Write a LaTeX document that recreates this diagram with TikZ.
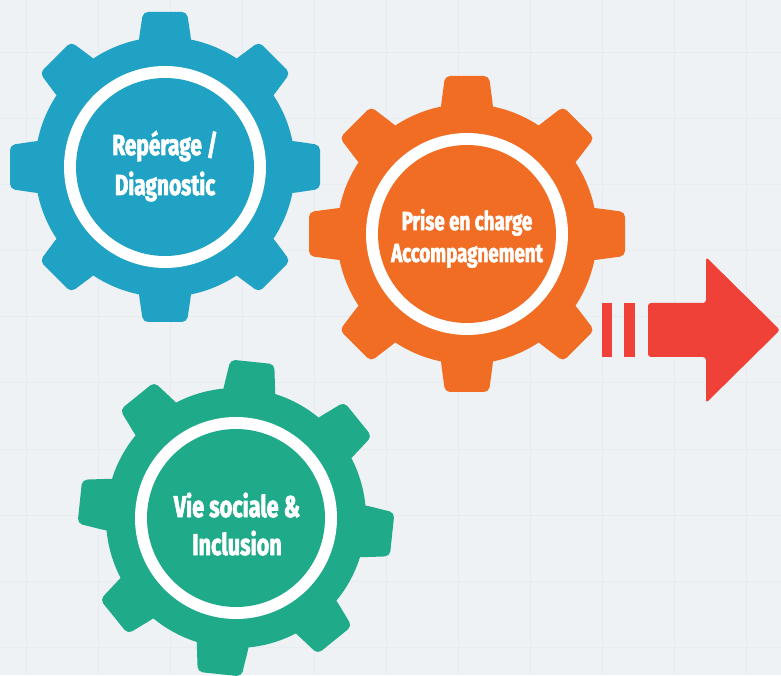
\documentclass[tikz,border=0pt]{standalone}
\usepackage{fontspec}
\newfontfamily\gearfont[FakeStretch=0.72,FakeBold=2.2]{Fira Sans}
\definecolor{gblue}{RGB}{31,162,196}
\definecolor{gorange}{RGB}{240,109,35}
\definecolor{ggreen}{RGB}{31,170,138}
\definecolor{ared}{RGB}{239,65,55}
\definecolor{bgc}{RGB}{238,242,245}
\definecolor{gridc}{RGB}{231,236,240}
\newcommand{\drawgear}[5]{%
  \begin{scope}[shift={(#1,#2)},rotate=#3]
    \fill[#4] (0,0) circle (130pt);
    \foreach \a in {0,45,...,315}{
      \fill[#4,rotate=\a,rounded corners=5pt] (110,-27) -- (128,-26) -- (#5,-22) -- (#5,22) -- (128,26) -- (110,27) -- cycle;
    }
    \fill[white] (0,0) circle (101pt);
    \fill[#4] (0,0) circle (89pt);
  \end{scope}}
\tikzset{
  gtext/.style={text=white, inner sep=0pt, anchor=base, font=\gearfont\bfseries\fontsize{#1}{#1}\selectfont},
}
\begin{document}
\begin{tikzpicture}[x=1pt,y=1pt]
\useasboundingbox (0,0) rectangle (781,675);
\fill[bgc] (0,0) rectangle (781,675);
\foreach \gx in {26,98,...,746} \draw[gridc, line width=1pt] (\gx,0) -- (\gx,675);
\foreach \gy in {53,119,...,647} \draw[gridc, line width=1pt] (0,675-\gy) -- (781,675-\gy);

\drawgear{165}{508}{0}{gblue}{155}
\drawgear{467}{441}{0}{gorange}{158}
\drawgear{236}{157}{-6}{ggreen}{157}

\node[gtext=29] (t1a) at (165,675-155) {Repérage /};
\node[gtext=29] (t1b) at (165,675-195) {Diagnostic};
\node[gtext=26] (t2a) at (467,675-230) {Prise en charge};
\node[gtext=26] (t2b) at (467,675-262) {Accompagnement};
\node[gtext=30] (t3a) at (237,675-517) {Vie sociale \&};
\node[gtext=30] (t3b) at (237,675-555) {Inclusion};

% arrow
\fill[ared] (602,318) rectangle (612,372);
\fill[ared] (624,318) rectangle (635,372);
\fill[ared, rounded corners=3pt] (648,318) -- (648,372) -- (706,372) -- (706,418) -- (780,345) -- (706,272) -- (706,318) -- cycle;
\end{tikzpicture}
\end{document}
